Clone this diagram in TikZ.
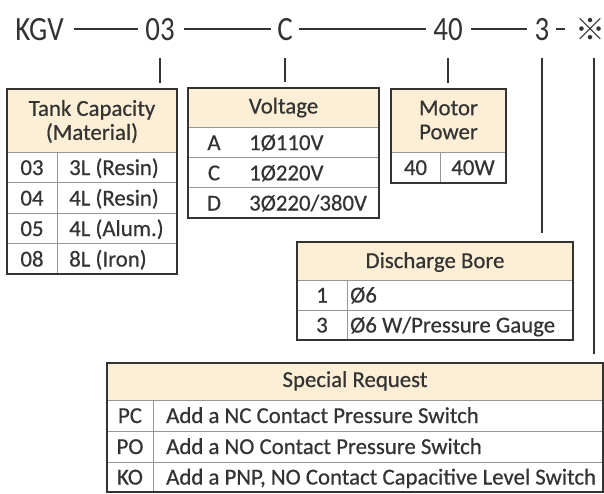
\documentclass[tikz,border=0pt]{standalone}
\usepackage{fontspec}
\setmainfont{Carlito}
\newfontfamily\tabfont{Carlito}[FakeBold=0.5]
\newfontfamily\codefont[FakeStretch=0.85]{Carlito}
\newfontfamily\cjk{Noto Sans CJK JP}
\definecolor{hdr}{RGB}{252,239,214}
\definecolor{ink}{RGB}{51,51,51}
\definecolor{grid}{RGB}{150,150,150}
\begin{document}
\begin{tikzpicture}[x=1pt,y=-1pt,
  code/.style={anchor=base, font=\codefont\fontsize{34}{34}\selectfont, text=ink, inner sep=0pt, text height=22pt, text depth=0pt},
  conn/.style={draw=ink, line width=1.4pt},
  frame/.style={draw=ink, line width=2.2pt, inner sep=0pt},
  gridline/.style={draw=grid, line width=0.9pt},
  cell/.style={anchor=base, font=\tabfont\fontsize{22.8}{24}\selectfont, text=ink, inner sep=0pt},
  cellw/.style={cell, anchor=base west},
  head/.style={font=\tabfont\fontsize{22.8}{24}\selectfont, text=ink, inner sep=0pt, align=center}
]
\useasboundingbox (0,0) rectangle (604,493);
\fill[white] (0,0) rectangle (604,493);

% ---- code line ----
\node[code] (kgv) at (39.5,40) {KGV};
\node[code] (c03) at (160,40) {03};
\node[code] (cC) at (285,40) {C};
\node[code] (c40) at (448,40) {40};
\node[code] (c3) at (542,40) {3};
\node[code, font=\cjk\fontsize{30}{30}\selectfont] (cx) at (590,40) {※};

\draw[conn] ([xshift=10pt]kgv.east) -- ([xshift=-7pt]c03.west);
\draw[conn] ([xshift=9pt]c03.east) -- ([xshift=-6pt]cC.west);
\draw[conn] ([xshift=6pt]cC.east) -- ([xshift=-7pt]c40.west);
\draw[conn] ([xshift=8pt]c40.east) -- ([xshift=-7pt]c3.west);
\draw[conn] ([xshift=6pt]c3.east) -- ([xshift=-10pt]cx.west);

% ---- Tank Capacity ----
\fill[hdr] (7,89) rectangle (177,152);
\draw[gridline] (7,152) -- (177,152) (7,182.5) -- (177,182.5) (7,213) -- (177,213) (7,243.5) -- (177,243.5) (57,152) -- (57,274);
\node[frame, minimum width=170pt, minimum height=185pt] (tank) at (92,181.5) {};
\node[head] (tankh) at (92,121.5) {Tank Capacity\\(Material)};
\node[cell] at (32,175) {03}; \node[cellw] at (69,175) {3L (Resin)};
\node[cell] at (32,205.5) {04}; \node[cellw] at (69,205.5) {4L (Resin)};
\node[cell] at (32,236) {05}; \node[cellw] at (69,236) {4L (Alum.)};
\node[cell] at (32,266.5) {08}; \node[cellw] at (69,266.5) {8L (Iron)};

% ---- Voltage ----
\fill[hdr] (188,88) rectangle (379,127);
\draw[gridline] (188,127) -- (379,127) (188,157.3) -- (379,157.3) (188,187.7) -- (379,187.7);
\node[frame, minimum width=191pt, minimum height=130pt] (volt) at (283.5,153) {};
\node[cell] at (283.5,113.5) {Voltage};
\node[cell] at (214,150) {A}; \node[cellw] at (249,150) {1Ø110V};
\node[cell] at (214,180.3) {C}; \node[cellw] at (249,180.3) {1Ø220V};
\node[cell] at (214,210.5) {D}; \node[cellw] at (249,210.5) {3Ø220/380V};

% ---- Motor Power ----
\fill[hdr] (391,89) rectangle (506,152);
\draw[gridline] (391,152) -- (506,152) (440,152) -- (440,183);
\node[frame, minimum width=115pt, minimum height=94pt] (motor) at (448.5,136) {};
\node[head] at (448.5,120) {Motor\\Power};
\node[cell] at (415.5,175) {40}; \node[cell] at (473,175) {40W};

% ---- Discharge Bore ----
\fill[hdr] (297,242) rectangle (573,280);
\draw[gridline] (297,280) -- (573,280) (297,310) -- (573,310) (347,280) -- (347,340);
\node[frame, minimum width=276pt, minimum height=98pt] (bore) at (435,291) {};
\node[cell] at (435,268) {Discharge Bore};
\node[cell] at (322,302.5) {1}; \node[cellw] at (350,302.5) {Ø6};
\node[cell] at (322,332.5) {3}; \node[cellw] at (350,332.5) {Ø6 W/Pressure Gauge};

% ---- Special Request ----
\fill[hdr] (107,363) rectangle (603,400);
\draw[gridline] (107,400) -- (603,400) (107,431) -- (603,431) (107,462) -- (603,462) (153,400) -- (153,492);
\node[frame, minimum width=496pt, minimum height=129pt] (spec) at (355,427.5) {};
\node[cell] at (355,387) {Special Request};
\node[cell] at (130,423) {PC}; \node[cellw] at (166,423) {Add a NC Contact Pressure Switch};
\node[cell] at (130,454) {PO}; \node[cellw] at (166,454) {Add a NO Contact Pressure Switch};
\node[cell] at (130,484.5) {KO}; \node[cellw] at (166,484.5) {Add a PNP, NO Contact Capacitive Level Switch};

% ---- vertical connectors ----
\draw[conn, shorten <=18pt, shorten >=5pt] (c03.south) -- (c03.south |- tank.north);
\draw[conn, shorten <=18pt, shorten >=5pt] (cC.south) -- (cC.south |- volt.north);
\draw[conn, shorten <=18pt, shorten >=5pt] (c40.south) -- (c40.south |- motor.north);
\draw[conn, shorten <=18pt, shorten >=8pt] (c3.south) -- (c3.south |- bore.north);
\draw[conn, shorten <=18pt, shorten >=8pt] ([xshift=4pt]cx.south) -- ([xshift=4pt]cx.south |- spec.north);
\end{tikzpicture}
\end{document}
